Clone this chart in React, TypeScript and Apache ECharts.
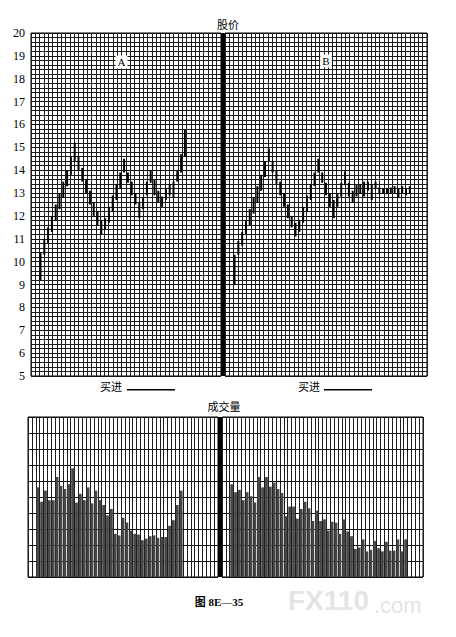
import React, { useEffect, useRef } from "react";
import * as echarts from "echarts";

// ---- data ----
const priceTicks = [5, 6, 7, 8, 9, 10, 11, 12, 13, 14, 15, 16, 17, 18, 19, 20];

const priceALow = [9.2, 10.3, 10.8, 11.3, 11.8, 12.3, 12.8, 13.3, 13.8, 14.4, 14.0, 13.5, 13.0, 12.5, 12.0, 11.6, 11.2, 11.4, 11.7, 12.2, 12.7, 13.2, 13.9, 13.45, 12.9, 12.5, 11.9, 12.3, 12.9, 13.45, 12.9, 12.6, 12.4, 12.7, 12.9, 12.8, 13.5, 13.9, 14.6];
const priceAHigh = [10.4, 11.0, 11.5, 12.0, 12.5, 13.0, 13.5, 14.0, 14.6, 15.2, 14.6, 14.1, 13.6, 13.1, 12.6, 12.2, 11.8, 11.9, 12.4, 12.9, 13.4, 13.9, 14.5, 13.9, 13.5, 13.0, 12.6, 12.8, 13.5, 14.0, 13.6, 13.1, 12.85, 13.2, 13.4, 13.5, 14.0, 14.7, 15.8];

const priceBLow = [9.0, 10.3, 10.7, 11.2, 11.6, 12.1, 12.6, 13.1, 13.7, 14.4, 13.9, 13.4, 12.9, 12.4, 11.9, 11.5, 11.1, 11.3, 11.7, 12.2, 12.7, 13.3, 13.9, 13.45, 12.9, 12.4, 11.9, 12.4, 12.85, 13.35, 12.85, 12.6, 12.85, 13.0, 12.85, 13.1, 12.7, 13.2, 12.95, 13.0, 12.95, 13.0, 13.0, 12.8, 13.0, 12.9, 13.0];
const priceBHigh = [10.3, 10.9, 11.3, 11.8, 12.3, 12.8, 13.3, 13.8, 14.4, 14.95, 14.4, 14.0, 13.5, 13.0, 12.5, 12.0, 11.7, 11.8, 12.4, 12.9, 13.4, 13.9, 14.5, 13.9, 13.45, 13.0, 12.7, 12.95, 13.45, 13.95, 13.45, 13.1, 13.35, 13.4, 13.5, 13.5, 13.4, 13.5, 13.25, 13.2, 13.2, 13.25, 13.3, 13.2, 13.3, 13.2, 13.3];

const volumeA = [5.6, 4.7, 5.4, 4.8, 4.8, 6.25, 5.7, 5.5, 5.8, 6.8, 4.65, 5.2, 4.8, 5.6, 4.6, 5.4, 4.8, 4.5, 3.85, 4.25, 2.7, 2.6, 3.7, 3.4, 2.9, 2.7, 2.65, 2.3, 2.4, 2.55, 2.6, 2.45, 2.5, 2.5, 3.2, 3.55, 4.5, 5.4];
const volumeB = [5.8, 5.3, 5.45, 4.8, 5.3, 5.05, 4.65, 6.25, 5.6, 6.25, 5.65, 5.9, 5.5, 5.25, 3.8, 4.4, 4.4, 3.65, 4.25, 4.7, 4.3, 3.5, 4.15, 3.5, 3.6, 2.9, 3.45, 3.4, 2.7, 3.6, 2.85, 2.55, 1.75, 1.85, 2.35, 1.6, 1.7, 2.25, 1.8, 1.6, 2.2, 1.65, 1.65, 2.35, 1.6, 2.35];

// day slots on each panel's time axis, and the empty days before trading starts
const daysPriceA = 50;
const daysPriceB = 53;
const daysVolA = 49;
const daysVolB = 52;
const leadDays = 2;
// chart-paper columns
const paperColsA = 44;
const paperColsB = 47;

const cats = (n: number) => Array.from({ length: n }, (_, i) => String(i + 1));

const hl = (lo: number[], hi: number[]) => lo.map((v, i) => [i + leadDays, v, hi[i]]);
const vol = (v: number[], n: number) => {
  const out: (number | string)[] = Array.from({ length: n }, () => "-");
  v.forEach((x, i) => (out[i + leadDays] = x));
  return out;
};

const LINE = "#1e1e1e";

const renderHL = (params: any, api: any) => {
  const x = api.value(0);
  const a = api.coord([x, api.value(1)]);
  const b = api.coord([x, api.value(2)]);
  return {
    type: "line",
    shape: { x1: a[0], y1: a[1], x2: b[0], y2: b[1] },
    style: { stroke: "#000", lineWidth: 2 },
  };
};

const dayAxis = (grid: number, n: number, showSplit: boolean) => ({
  type: "category",
  gridIndex: grid,
  data: cats(n),
  boundaryGap: true,
  axisLine: { show: false },
  axisTick: { show: false },
  axisLabel: { show: false },
  splitLine: { show: showSplit, interval: 0, lineStyle: { color: LINE, width: 1 } },
});

const paperAxis = (grid: number, n: number) => ({
  type: "category",
  gridIndex: grid,
  data: cats(n),
  boundaryGap: true,
  axisLine: { show: false },
  axisTick: { show: false },
  axisLabel: { show: false },
  splitLine: { show: true, interval: 0, lineStyle: { color: LINE, width: 1 } },
});

const priceY = (grid: number, labels: boolean) => ({
  type: "value",
  gridIndex: grid,
  min: priceTicks[0],
  max: priceTicks[priceTicks.length - 1],
  interval: 1,
  axisLine: { show: false },
  axisTick: { show: false },
  axisLabel: {
    show: labels,
    color: "#000",
    fontFamily: "Liberation Serif",
    fontSize: 12,
    margin: 6,
  },
  splitLine: { show: true, lineStyle: { color: "#111", width: 1 } },
  minorTick: { show: false, splitNumber: 5 },
  minorSplitLine: { show: true, lineStyle: { color: LINE, width: 1 } },
});

const volY = (grid: number) => ({
  type: "value",
  gridIndex: grid,
  min: 0,
  max: 10,
  interval: 1,
  axisLine: { show: false },
  axisTick: { show: false },
  axisLabel: { show: false },
  splitLine: { show: true, lineStyle: { color: "#111", width: 1 } },
});

export default function App() {
  const ref = useRef<HTMLDivElement>(null);
  useEffect(() => {
    if (!ref.current) return;
    const chart = echarts.init(ref.current, null, { renderer: "svg" });
    const gridBase = { show: true, borderColor: "#000", borderWidth: 1, backgroundColor: "#fff" };
    chart.setOption({
      animation: false,
      backgroundColor: "#fff",
      grid: [
        { ...gridBase, left: 31, top: 33, width: 190, height: 343 },
        { ...gridBase, left: 225, top: 33, width: 202, height: 343 },
        { ...gridBase, left: 28, top: 417, width: 190, height: 160 },
        { ...gridBase, left: 222, top: 417, width: 201, height: 160 },
      ],
      xAxis: [
        dayAxis(0, daysPriceA, false),
        paperAxis(0, paperColsA),
        dayAxis(1, daysPriceB, false),
        paperAxis(1, paperColsB),
        dayAxis(2, daysVolA, true),
        dayAxis(3, daysVolB, true),
      ],
      yAxis: [priceY(0, true), priceY(1, false), volY(2), volY(3)],
      series: [
        {
          type: "custom",
          name: "A",
          xAxisIndex: 0,
          yAxisIndex: 0,
          renderItem: renderHL,
          encode: { x: 0, y: [1, 2] },
          data: hl(priceALow, priceAHigh),
          z: 5,
        },
        {
          type: "custom",
          name: "B",
          xAxisIndex: 2,
          yAxisIndex: 1,
          renderItem: renderHL,
          encode: { x: 0, y: [1, 2] },
          data: hl(priceBLow, priceBHigh),
          z: 5,
        },
        {
          type: "bar",
          xAxisIndex: 4,
          yAxisIndex: 2,
          data: vol(volumeA, daysVolA),
          barWidth: "72%",
          itemStyle: { color: "#474747" },
        },
        {
          type: "bar",
          xAxisIndex: 5,
          yAxisIndex: 3,
          data: vol(volumeB, daysVolB),
          barWidth: "72%",
          itemStyle: { color: "#474747" },
        },
      ],
      graphic: [
        { type: "rect", shape: { x: 221, y: 33, width: 4, height: 343 }, style: { fill: "#000" }, z: 10 },
        { type: "rect", shape: { x: 218, y: 417, width: 4, height: 160 }, style: { fill: "#000" }, z: 10 },
        {
          type: "text", x: 228, y: 24, z: 10,
          style: { text: "股价", fill: "#000", font: "11px 'Noto Sans CJK SC'", align: "center", verticalAlign: "middle" },
        },
        {
          type: "text", x: 121.5, y: 62, z: 10,
          style: { text: "A", fill: "#000", font: "11px 'Liberation Serif'", align: "center", verticalAlign: "middle", backgroundColor: "#fff", padding: [1, 2] },
        },
        {
          type: "text", x: 326, y: 61, z: 10,
          style: { text: "B", fill: "#000", font: "11px 'Liberation Serif'", align: "center", verticalAlign: "middle", backgroundColor: "#fff", padding: [1, 2] },
        },
        {
          type: "text", x: 111, y: 386, z: 10,
          style: { text: "买进", fill: "#000", font: "11px 'Noto Sans CJK SC'", align: "center", verticalAlign: "middle" },
        },
        { type: "rect", shape: { x: 127, y: 389, width: 48, height: 1.5 }, style: { fill: "#000" }, z: 10 },
        {
          type: "text", x: 309, y: 386, z: 10,
          style: { text: "买进", fill: "#000", font: "11px 'Noto Sans CJK SC'", align: "center", verticalAlign: "middle" },
        },
        { type: "rect", shape: { x: 324, y: 389, width: 48, height: 1.5 }, style: { fill: "#000" }, z: 10 },
        {
          type: "text", x: 224, y: 406, z: 10,
          style: { text: "成交量", fill: "#000", font: "11px 'Noto Sans CJK SC'", align: "center", verticalAlign: "middle" },
        },
        {
          type: "text", x: 219, y: 602, z: 10,
          style: { text: "图 8E—35", fill: "#000", font: "bold 11px 'Liberation Serif', 'Noto Sans CJK SC'", align: "center", verticalAlign: "middle" },
        },
        {
          type: "text", x: 288, y: 600, z: 1,
          style: { text: "FX110", fill: "#e4e4e4", font: "bold 28px 'Liberation Sans'", align: "left", verticalAlign: "middle" },
        },
        {
          type: "text", x: 374, y: 605, z: 1,
          style: { text: ".com", fill: "#e4e4e4", font: "22px 'Liberation Sans'", align: "left", verticalAlign: "middle" },
        },
      ],
    });
    return () => chart.dispose();
  }, []);
  return (
    <div
      ref={ref}
      style={{ position: "fixed", left: 0, top: 0, width: 456, height: 637, background: "#fff" }}
    />
  );
}
